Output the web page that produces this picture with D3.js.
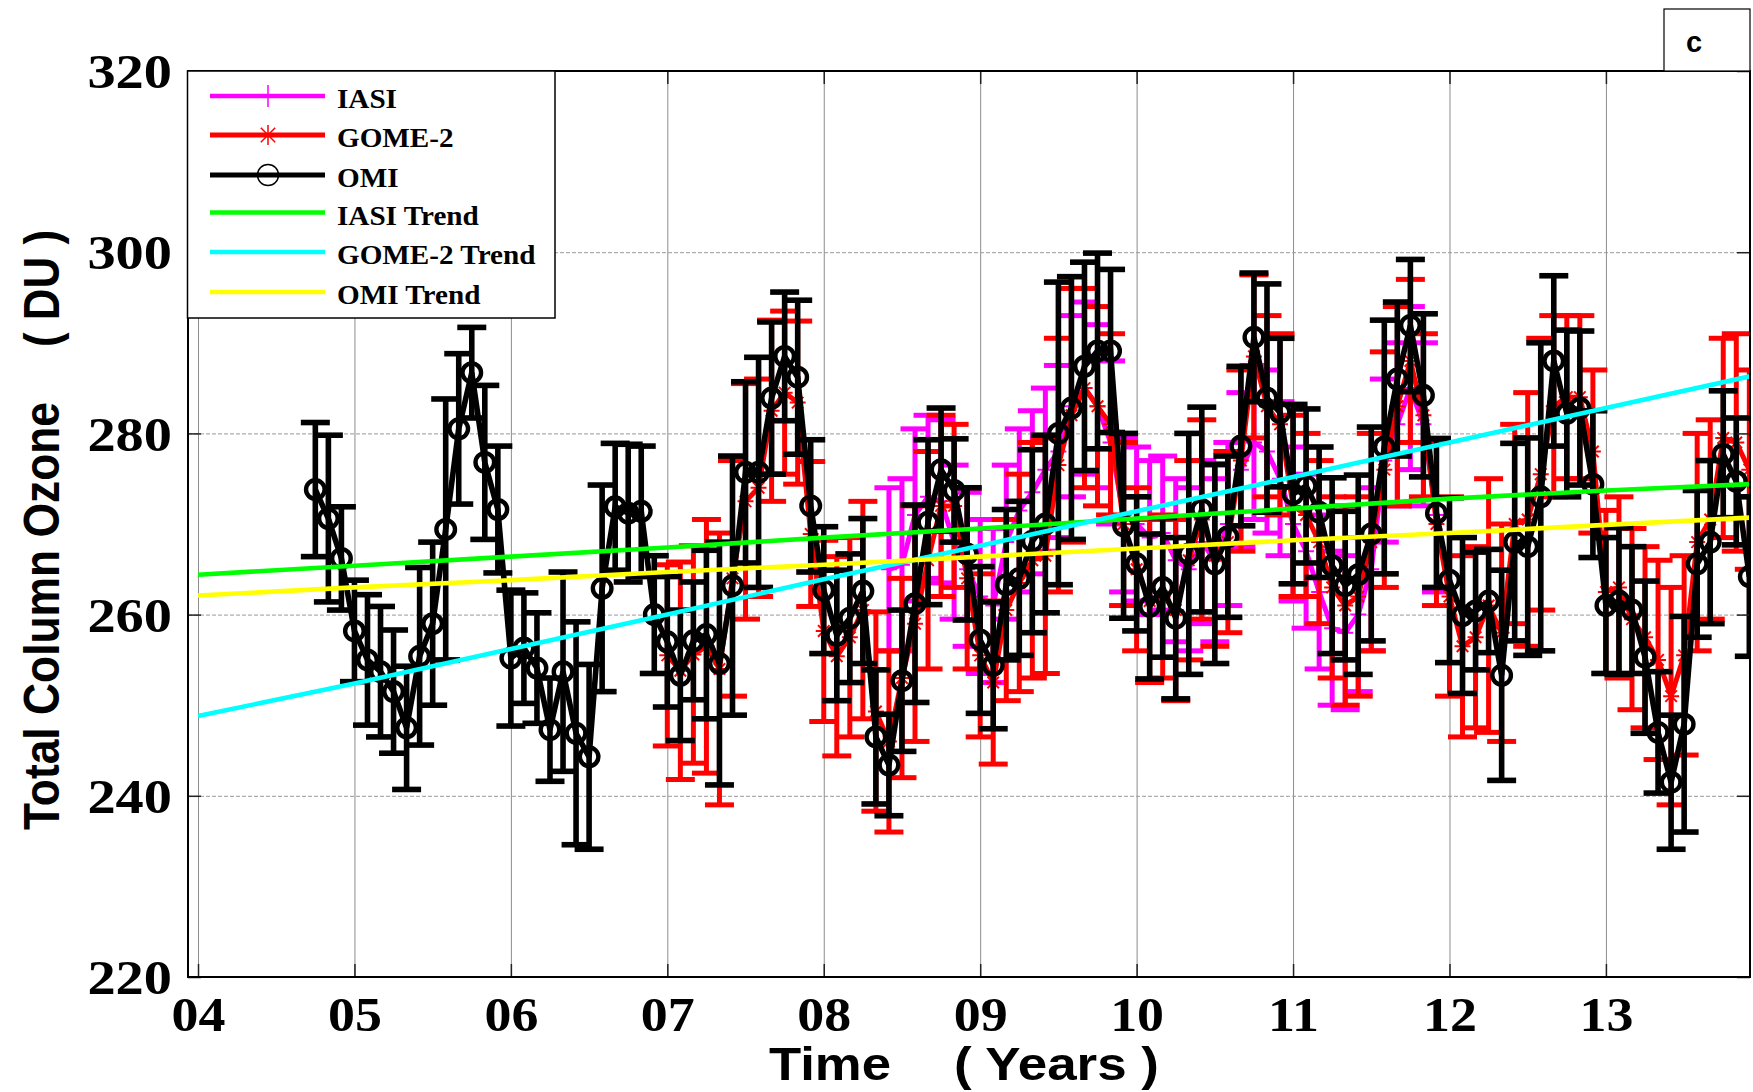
<!DOCTYPE html>
<html><head><meta charset="utf-8">
<script src="https://cdn.jsdelivr.net/npm/d3@7"></script>
<style>body{margin:0;background:#fff;} svg{display:block;}</style>
</head><body>
<svg id="chart" width="1753" height="1092"></svg>
<script>
// ---------------- DATA ----------------
const xTickYears  = [2004, 2005, 2006, 2007, 2008, 2009, 2010, 2011, 2012, 2013];
const xTickLabels = ["04", "05", "06", "07", "08", "09", "10", "11", "12", "13"];
const yTicks      = [220, 240, 260, 280, 300, 320];
const yTickLabels = ["220", "240", "260", "280", "300", "320"];

// OMI monthly means, Oct 2004 .. Dec 2013
const omiStart = {year: 2004, month: 10};
const omiValues = [
  273.8, 270.6, 266.2,
  258.2, 255.0, 253.7, 251.5, 247.5, 255.4, 259.0, 269.4, 280.5, 286.7, 276.8, 271.6,
  255.2, 256.3, 254.1, 247.3, 253.7, 246.9, 244.3, 262.9, 271.9, 271.2, 271.4, 260.0,
  257.0, 253.3, 257.1, 257.8, 254.6, 263.2, 275.7, 275.7, 283.9, 288.5, 286.2, 272.0,
  262.7, 257.7, 259.6, 262.6, 246.5, 243.4, 252.7, 261.2, 270.2, 276.0, 273.7, 266.7,
  257.2, 254.4, 263.3, 264.0, 268.1, 270.0, 280.0, 282.8, 287.4, 289.1, 289.1, 269.8,
  265.6, 260.9, 263.0, 259.6, 266.7, 271.6, 265.6, 268.6, 278.6, 290.6, 283.9, 282.3,
  273.3, 274.2, 271.3, 265.4, 263.2, 264.4, 268.9, 278.5, 286.0, 291.9, 284.2, 271.2,
  263.8, 259.9, 260.4, 261.5, 253.3, 268.0, 267.5, 273.0, 288.0, 282.2, 282.8, 274.4,
  261.0, 261.5, 260.5, 255.3, 247.0, 241.5, 247.9, 265.6, 268.0, 277.7, 274.7, 264.2
];
const omiErrors = [
  7.4, 9.2, 5.7,
  5.6, 7.2, 7.2, 6.8, 6.8, 9.8, 9.0, 14.4, 8.3, 5.0, 8.5, 7.0,
  7.5, 6.1, 6.1, 5.7, 11.0, 12.3, 10.2, 11.4, 7.0, 7.6, 7.2, 6.5,
  7.2, 7.2, 6.5, 9.3, 13.4, 14.3, 10.0, 12.7, 8.4, 7.1, 8.5, 7.3,
  7.0, 7.2, 7.1, 8.0, 7.4, 5.6, 7.8, 10.9, 9.1, 6.8, 5.7, 7.3,
  8.1, 7.0, 8.3, 8.5, 10.1, 9.8, 16.7, 14.5, 11.5, 10.8, 9.0, 10.2,
  7.4, 8.0, 7.7, 8.9, 13.3, 11.3, 11.0, 8.9, 8.8, 7.1, 12.6, 8.2,
  9.9, 8.5, 7.2, 9.7, 8.2, 11.0, 11.8, 14.0, 8.5, 7.3, 9.0, 8.2,
  9.1, 8.6, 6.5, 5.7, 11.6, 10.9, 12.0, 17.0, 9.4, 9.2, 8.5, 8.1,
  7.5, 8.1, 7.0, 8.4, 6.7, 7.4, 11.9, 8.1, 9.0, 7.0, 7.0, 8.8
];

// GOME-2 monthly means, Jan 2007 .. Dec 2013
const gomeStart = {year: 2007, month: 1};
const gomeValues = [
  255.5, 253.8, 255.6, 256.5, 254.0, 264.0, 272.5, 274.0, 282.5, 284.5, 283.4, 268.9,
  258.2, 255.4, 257.5, 260.5, 249.3, 246.0, 253.0, 259.0, 266.0, 272.0, 272.0, 264.0,
  255.5, 252.5, 260.5, 263.5, 266.0, 266.5, 276.5, 282.0, 285.0, 283.0, 281.0, 270.0,
  265.0, 261.5, 262.0, 260.5, 266.0, 270.5, 266.5, 268.0, 277.0, 288.5, 283.0, 281.0,
  272.0, 271.0, 268.0, 263.0, 261.0, 262.0, 268.0, 276.0, 283.0, 288.0, 282.0, 270.0,
  262.0, 256.5, 257.5, 261.0, 258.0, 270.0, 270.5, 275.5, 283.0, 284.0, 284.0, 278.0,
  262.5, 263.0, 259.5, 257.5, 255.0, 251.0, 255.5, 268.0, 270.5, 279.5, 279.0, 276.0
];
const gomeErrors = [
  10, 12, 12, 14, 15, 13, 13, 12, 10, 9, 9, 8,
  10, 11, 11, 12, 11, 10, 11, 13, 12, 10, 9, 10,
  9, 9, 10, 12, 13, 13, 14, 14, 11, 11, 10, 9,
  9, 9, 9, 10, 11, 11, 10, 10, 10, 9, 10, 10,
  10, 9, 9, 10, 11, 11, 12, 13, 11, 9, 9, 9,
  11, 10, 10, 14, 12, 11, 14, 15, 10, 9, 9, 9,
  9, 10, 10, 10, 11, 12, 11, 12, 11, 11, 12, 11
];

// IASI monthly means, Jun 2008 .. Dec 2011
const iasiStart = {year: 2008, month: 6};
const iasiValues = [
  265.0, 265.5, 271.0, 273.0, 272.5, 268.0, 265.0,
  262.0, 261.0, 268.0, 271.5, 273.5, 276.0, 278.0, 283.0, 285.0, 283.0, 279.0, 271.0,
  270.0, 268.5, 269.0, 266.0, 265.0, 268.0, 266.0, 270.0, 276.0, 279.0, 278.0, 275.0,
  270.0, 267.0, 262.5, 258.5, 258.0, 260.0, 265.0, 277.0, 281.0, 285.0, 281.0, 271.0
];
const iasiErrors = [
  9, 9.5, 9.5, 9, 9, 8.5, 8.5,
  8.5, 8.5, 8.5, 9, 9, 9, 9.5, 10, 9.5, 9, 9, 8.5,
  8.5, 8.5, 8.5, 9, 9, 9, 9, 9, 8.5, 8.5, 9, 8.5,
  8.5, 8.5, 8.5, 8.5, 8.5, 8.5, 9, 9, 9, 9, 9, 8.5
];

// Trend lines (values read at each year boundary)
const trendYears = [2004, 2005, 2006, 2007, 2008, 2009, 2010, 2011, 2012, 2013, 2013.92];
const iasiTrend  = [264.4, 265.4, 266.4, 267.4, 268.5, 269.5, 270.6, 271.7, 272.8, 273.7, 274.4];
const gomeTrend  = [248.8, 252.4, 256.2, 260.0, 263.9, 267.6, 271.4, 275.2, 279.0, 282.8, 286.3];
const omiTrend   = [262.1, 263.0, 263.8, 264.7, 265.5, 266.4, 267.3, 268.2, 269.0, 269.9, 270.7];

const legendLabels = ["IASI", "GOME-2", "OMI", "IASI Trend", "GOME-2 Trend", "OMI Trend"];
const xTitleParts = ["Time", "( Years )"];
const yTitleParts = ["Total Column Ozone", "( DU )"];
const panelLabel = "c";

// ---------------- LAYOUT ----------------
const plot = {left: 188, right: 1750, top: 71, bottom: 977};
const serif = "'Liberation Serif','Times New Roman',serif";
const sans  = "'Liberation Sans',Arial,sans-serif";

const svg = d3.select("#chart");
const x = d3.scaleLinear().domain([2003.936, 2013.921]).range([plot.left, plot.right]);
const y = d3.scaleLinear().domain([220, 320]).range([plot.bottom, plot.top]);

function monthly(start, values, errors) {
  return values.map((v, i) => ({t: start.year + (start.month - 1 + i) / 12, v: v, e: errors[i]}));
}
const omi  = monthly(omiStart, omiValues, omiErrors);
const gome = monthly(gomeStart, gomeValues, gomeErrors);
const iasi = monthly(iasiStart, iasiValues, iasiErrors);

// ---------------- GRID ----------------
const gx = svg.append("g").attr("transform", `translate(0,${plot.bottom})`)
  .call(d3.axisBottom(x).tickValues(xTickYears).tickSize(-(plot.bottom - plot.top)).tickFormat(""));
gx.select(".domain").remove();
gx.selectAll("line").attr("stroke", "#8c8c8c").attr("stroke-width", 1);

const gy = svg.append("g").attr("transform", `translate(${plot.left},0)`)
  .call(d3.axisLeft(y).tickValues(yTicks).tickSize(-(plot.right - plot.left)).tickFormat(""));
gy.select(".domain").remove();
gy.selectAll("line").attr("stroke", "#9a9a9a").attr("stroke-width", 1).attr("stroke-dasharray", "4,2");

// ---------------- DATA ----------------
svg.append("clipPath").attr("id", "clip").append("rect")
  .attr("x", plot.left).attr("y", plot.top)
  .attr("width", plot.right - plot.left).attr("height", plot.bottom - plot.top);
const area = svg.append("g").attr("clip-path", "url(#clip)");

function asteriskPath(cx, cy, s) {
  const d = s * 0.72;
  return `M${cx - s},${cy}L${cx + s},${cy}M${cx},${cy - s}L${cx},${cy + s}` +
         `M${cx - d},${cy - d}L${cx + d},${cy + d}M${cx - d},${cy + d}L${cx + d},${cy - d}`;
}
function plusPath(cx, cy, s) {
  return `M${cx - s},${cy}L${cx + s},${cy}M${cx},${cy - s}L${cx},${cy + s}`;
}

function drawSeries(pts, color, lw, capHalf, marker) {
  const g = area.append("g");
  const eb = g.append("g").attr("stroke", color).attr("stroke-width", lw).attr("fill", "none");
  pts.forEach(p => {
    const cx = x(p.t), y1 = y(p.v - p.e), y2 = y(p.v + p.e);
    eb.append("line").attr("x1", cx).attr("x2", cx).attr("y1", y1).attr("y2", y2);
    eb.append("line").attr("x1", cx - capHalf).attr("x2", cx + capHalf).attr("y1", y1).attr("y2", y1);
    eb.append("line").attr("x1", cx - capHalf).attr("x2", cx + capHalf).attr("y1", y2).attr("y2", y2);
  });
  g.append("path").datum(pts)
    .attr("d", d3.line().x(d => x(d.t)).y(d => y(d.v)))
    .attr("fill", "none").attr("stroke", color).attr("stroke-width", lw)
    .attr("stroke-linejoin", "miter").attr("stroke-miterlimit", 2);
  const mk = g.append("g");
  if (marker === "circle") {
    mk.selectAll("circle").data(pts).join("circle")
      .attr("cx", d => x(d.t)).attr("cy", d => y(d.v)).attr("r", 9.3)
      .attr("fill", "none").attr("stroke", color).attr("stroke-width", 4.4);
  } else if (marker === "asterisk") {
    mk.selectAll("path").data(pts).join("path")
      .attr("d", d => asteriskPath(x(d.t), y(d.v), 8))
      .attr("fill", "none").attr("stroke", color).attr("stroke-width", 2);
  } else if (marker === "plus") {
    mk.selectAll("path").data(pts).join("path")
      .attr("d", d => plusPath(x(d.t), y(d.v), 8))
      .attr("fill", "none").attr("stroke", color).attr("stroke-width", 2);
  }
}

drawSeries(iasi, "#ff00ff", 5, 14.5, "plus");
drawSeries(gome, "#ff0000", 5, 14.5, "asterisk");
drawSeries(omi,  "#000000", 5.6, 14.5, "circle");

const trendLine = d3.line().x((d, i) => x(trendYears[i])).y(d => y(d));
[[iasiTrend, "#00ff00"], [gomeTrend, "#00ffff"], [omiTrend, "#ffff00"]].forEach(([vals, col]) => {
  area.append("path").datum(vals).attr("d", trendLine)
    .attr("fill", "none").attr("stroke", col).attr("stroke-width", 4.6);
});

// ---------------- AXES ----------------
function ticks(axisGen, tx, ty) {
  const g = svg.append("g").attr("transform", `translate(${tx},${ty})`).call(axisGen);
  g.select(".domain").remove();
  g.selectAll("line").attr("stroke", "#222").attr("stroke-width", 1.5);
  g.selectAll("text").remove();
}
ticks(d3.axisBottom(x).tickValues(xTickYears).tickSize(-13), 0, plot.bottom);
ticks(d3.axisTop(x).tickValues(xTickYears).tickSize(-13), 0, plot.top);
ticks(d3.axisLeft(y).tickValues(yTicks).tickSize(-13), plot.left, 0);
ticks(d3.axisRight(y).tickValues(yTicks).tickSize(-13), plot.right, 0);

svg.append("rect").attr("x", plot.left).attr("y", plot.top)
  .attr("width", plot.right - plot.left).attr("height", plot.bottom - plot.top)
  .attr("fill", "none").attr("stroke", "#000").attr("stroke-width", 2);

// tick labels
const xl = svg.append("g").attr("transform", `translate(0,${plot.bottom})`)
  .call(d3.axisBottom(x).tickValues(xTickYears).tickSize(0).tickPadding(19)
        .tickFormat((d, i) => xTickLabels[i]));
xl.select(".domain").remove();
xl.selectAll("text").attr("font-family", serif).attr("font-weight", "bold")
  .attr("font-size", 49).attr("fill", "#000").attr("transform", "scale(1.1,1)");

const yl = svg.append("g").attr("transform", `translate(${plot.left},0)`)
  .call(d3.axisLeft(y).tickValues(yTicks).tickSize(0).tickPadding(14)
        .tickFormat((d, i) => yTickLabels[i]));
yl.select(".domain").remove();
yl.selectAll("text").attr("font-family", serif).attr("font-weight", "bold")
  .attr("font-size", 49).attr("fill", "#000").attr("dy", "0.34em").attr("transform", "scale(1.15,1)");

// axis titles
svg.append("text").attr("x", 769).attr("y", 1080).text(xTitleParts[0])
  .attr("font-family", sans).attr("font-weight", "bold").attr("font-size", 46)
  .attr("textLength", 122).attr("lengthAdjust", "spacingAndGlyphs");
svg.append("text").attr("x", 954).attr("y", 1080).text(xTitleParts[1])
  .attr("font-family", sans).attr("font-weight", "bold").attr("font-size", 46)
  .attr("textLength", 205).attr("lengthAdjust", "spacingAndGlyphs");

svg.append("text").attr("transform", "translate(59,830) scale(1.13,1) rotate(-90)")
  .text(yTitleParts[0]).attr("font-family", sans).attr("font-weight", "bold").attr("font-size", 44)
  .attr("textLength", 428).attr("lengthAdjust", "spacingAndGlyphs");
svg.append("text").attr("transform", "translate(59,347) scale(1.13,1) rotate(-90)")
  .text(yTitleParts[1]).attr("font-family", sans).attr("font-weight", "bold").attr("font-size", 44)
  .attr("textLength", 117).attr("lengthAdjust", "spacingAndGlyphs");

// panel label
svg.append("rect").attr("x", 1664).attr("y", 9).attr("width", 86).attr("height", 62)
  .attr("fill", "#fff").attr("stroke", "#000").attr("stroke-width", 1.2);
svg.append("text").attr("x", 1694).attr("y", 52).attr("text-anchor", "middle")
  .attr("font-family", sans).attr("font-weight", "bold").attr("font-size", 29).text(panelLabel);

// ---------------- LEGEND ----------------
const lg = svg.append("g");
lg.append("rect").attr("x", 187.5).attr("y", 71).attr("width", 367.5).attr("height", 247)
  .attr("fill", "#fff").attr("stroke", "#000").attr("stroke-width", 1.5);
const legendColors = ["#ff00ff", "#ff0000", "#000000", "#00ff00", "#00ffff", "#ffff00"];
const legendWidths = [4.5, 5, 5, 4.5, 4.5, 4.5];
const legendMarkers = ["plus", "asterisk", "circle", null, null, null];
const legendRowY = [96, 135, 175, 212.5, 252, 292];
legendLabels.forEach((lab, i) => {
  const yy = legendRowY[i];
  lg.append("line").attr("x1", 210).attr("x2", 325).attr("y1", yy).attr("y2", yy)
    .attr("stroke", legendColors[i]).attr("stroke-width", legendWidths[i]);
  if (legendMarkers[i] === "plus") {
    lg.append("path").attr("d", plusPath(268, yy, 11)).attr("stroke", legendColors[i])
      .attr("stroke-width", 1.5).attr("fill", "none");
  } else if (legendMarkers[i] === "asterisk") {
    lg.append("path").attr("d", asteriskPath(268, yy, 10)).attr("stroke", legendColors[i])
      .attr("stroke-width", 1.5).attr("fill", "none");
  } else if (legendMarkers[i] === "circle") {
    lg.append("circle").attr("cx", 268).attr("cy", yy).attr("r", 10.5)
      .attr("stroke", "#000").attr("stroke-width", 1.5).attr("fill", "none");
  }
  lg.append("text").attr("x", 337).attr("y", yy + 12.5).text(lab)
    .attr("font-family", serif).attr("font-weight", "bold").attr("font-size", 27)
    .attr("transform", `translate(${337 * -0.08},0) scale(1.08,1)`);
});
</script>
</body></html>
